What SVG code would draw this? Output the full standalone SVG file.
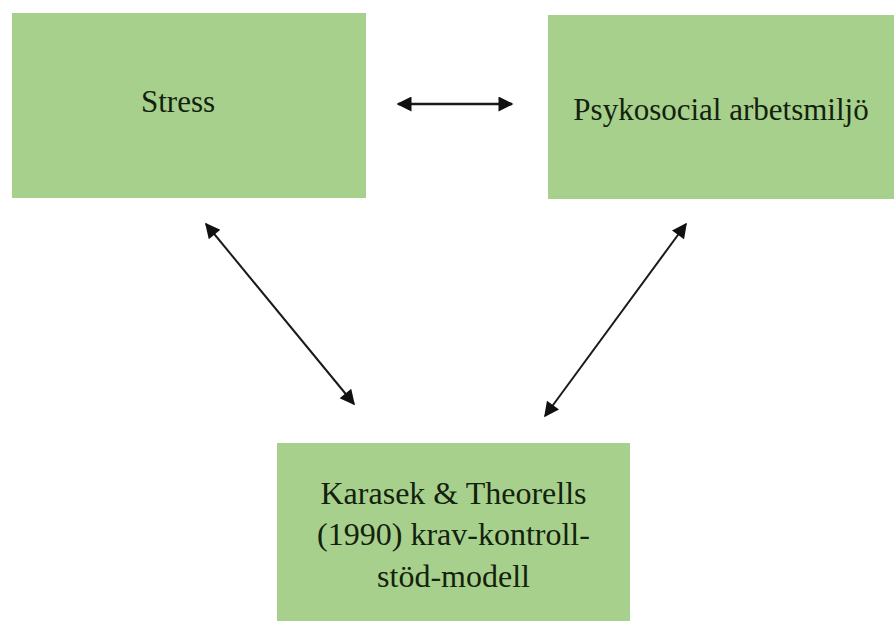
<svg xmlns="http://www.w3.org/2000/svg" width="894" height="621" viewBox="0 0 894 621">
<style>
.box{fill:#a8d08d}
.t{font-family:"Liberation Serif","Times New Roman",serif;font-size:32px;fill:#13220d;text-anchor:middle}
.c{stroke:#1a1a1a;stroke-width:2;marker-start:url(#ah);marker-end:url(#ah)}
</style>
<defs>
<marker id="ah" viewBox="0 0 10 10" refX="9" refY="5" markerWidth="17" markerHeight="15" markerUnits="userSpaceOnUse" orient="auto-start-reverse">
<path d="M0,0 L10,5 L0,10 z" fill="#111"/>
</marker>
</defs>
<rect width="894" height="621" fill="#fff"/>
<g id="stress">
<rect class="box" x="12" y="13" width="354" height="185"/>
<text class="t" x="178" y="112" style="font-size:31px">Stress</text>
</g>
<g id="psykosocial">
<rect class="box" x="548" y="15" width="346" height="184"/>
<text class="t" x="721" y="120" style="font-size:31px">Psykosocial arbetsmiljö</text>
</g>
<g id="karasek">
<rect class="box" x="277" y="443" width="353" height="178"/>
<text class="t" x="453.5" y="504">Karasek &amp; Theorells</text>
<text class="t" x="453.5" y="545">(1990) krav-kontroll-</text>
<text class="t" x="453.5" y="587">stöd-modell</text>
</g>
<g id="connectors">
<line class="c" x1="398" y1="104" x2="512" y2="104" style="stroke-width:2.5"/>
<line class="c" x1="206" y1="224" x2="354" y2="404"/>
<line class="c" x1="686" y1="224" x2="545" y2="416"/>
</g>
</svg>
